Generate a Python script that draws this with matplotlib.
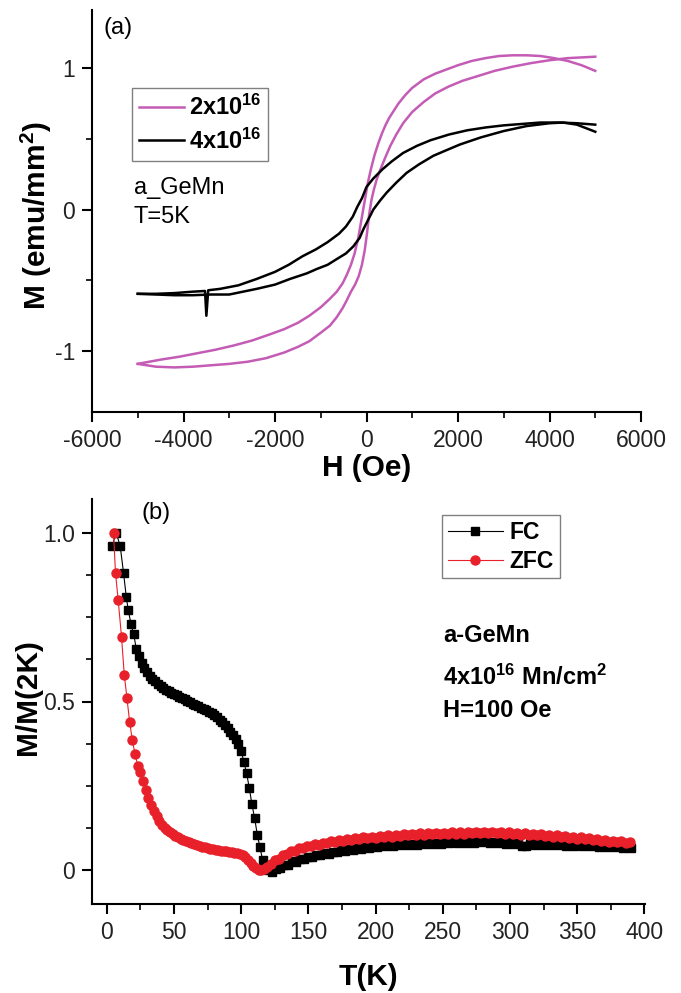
import matplotlib
matplotlib.use('Agg')
import matplotlib.pyplot as plt
from matplotlib.ticker import MultipleLocator

plt.rcParams['font.family'] = ['Liberation Sans', 'DejaVu Sans']
plt.rcParams['mathtext.fontset'] = 'custom'
plt.rcParams['mathtext.rm'] = 'Liberation Sans'
plt.rcParams['mathtext.bf'] = 'Liberation Sans:bold'
plt.rcParams['mathtext.default'] = 'regular'
plt.rcParams['axes.unicode_minus'] = False

# (a) hysteresis loops at 5 K, field in Oe, M in emu/mm^2
# 2x10^16 : descending branch (+5000 -> -5000)
pink_down_h = [5000, 4700, 4400, 4100, 3800, 3500, 3200, 2900, 2600, 2300, 2000, 1750, 1500,
               1250, 1000, 850, 700, 580, 500, 420, 340, 260, 180, 100, 30, -40, -110, -180,
               -260, -340, -430, -520, -650, -800, -1000, -1250, -1500, -1800, -2100, -2500,
               -2900, -3300, -3700, -4100, -4500, -5000]
pink_down_m = [0.98, 1.02, 1.05, 1.07, 1.085, 1.09, 1.09, 1.085, 1.07, 1.05, 1.02, 0.99, 0.96,
               0.92, 0.86, 0.81, 0.75, 0.69, 0.65, 0.60, 0.54, 0.47, 0.39, 0.29, 0.19, 0.06, -0.07,
               -0.20, -0.31, -0.39, -0.46, -0.52, -0.58, -0.63, -0.69, -0.75, -0.80, -0.845,
               -0.88, -0.925, -0.96, -0.99, -1.015, -1.04, -1.06, -1.09]
# 2x10^16 : ascending branch (-5000 -> +5000)
pink_up_h = [-5000, -4600, -4200, -3800, -3400, -3000, -2600, -2200, -1800, -1500, -1250, -1000,
             -800, -650, -520, -430, -340, -250, -170, -100, -40, 10, 60, 110, 160, 220, 300,
             400, 520, 650, 800, 1000, 1250, 1500, 1800, 2100, 2400, 2800, 3200, 3600, 4000,
             4400, 4700, 5000]
pink_up_m = [-1.09, -1.11, -1.115, -1.11, -1.10, -1.09, -1.075, -1.05, -1.01, -0.97, -0.93,
             -0.87, -0.82, -0.76, -0.695, -0.64, -0.58, -0.53, -0.47, -0.39, -0.29, -0.17,
             -0.03, 0.07, 0.14, 0.21, 0.28, 0.36, 0.45, 0.53, 0.61, 0.69, 0.76, 0.82, 0.87,
             0.91, 0.94, 0.98, 1.01, 1.035, 1.055, 1.07, 1.075, 1.08]

# 4x10^16 : descending branch (glitch near -3500 Oe)
black_down_h = [5000, 4600, 4200, 3800, 3400, 3000, 2600, 2200, 1800, 1400, 1100, 800, 550, 350,
                150, 0, -100, -200, -300, -450, -600, -850, -1100, -1400, -1700, -2000, -2400,
                -2800, -3200, -3460, -3500, -3530, -3800, -4200, -4600, -5000]
black_down_m = [0.60, 0.61, 0.615, 0.615, 0.605, 0.595, 0.58, 0.56, 0.53, 0.49, 0.45, 0.40,
                0.34, 0.285, 0.22, 0.16, 0.08, 0.02, -0.05, -0.12, -0.17, -0.23, -0.28, -0.33,
                -0.39, -0.44, -0.49, -0.535, -0.56, -0.57, -0.75, -0.575, -0.58, -0.59, -0.595,
                -0.595]
# 4x10^16 : ascending branch
black_up_h = [-5000, -4600, -4200, -3800, -3400, -3000, -2400, -2000, -1672, -1300, -1089, -850,
              -652, -450, -288, -150, -70, 40, 149, 300, 441, 650, 879, 1150, 1461, 1750, 2044,
              2500, 3000, 3500, 4000, 4300, 4600, 5000]
black_up_m = [-0.595, -0.60, -0.605, -0.605, -0.60, -0.60, -0.56, -0.53, -0.49, -0.45, -0.42,
              -0.39, -0.35, -0.31, -0.26, -0.20, -0.14, -0.07, 0.0, 0.065, 0.12, 0.19, 0.26,
              0.32, 0.38, 0.42, 0.46, 0.51, 0.555, 0.59, 0.61, 0.615, 0.60, 0.55]

# (b) FC / ZFC normalised magnetisation vs temperature (K)
fc_t = [4, 7, 10, 12.5, 14.5, 16, 18, 20,
        22, 24, 26, 28, 30, 32, 34, 36, 38, 40, 42, 44, 46, 48, 50, 52, 54, 56, 58, 60,
        62, 64, 66, 68, 70, 72, 74, 76, 78, 80, 82, 84, 86, 88, 90, 92, 94, 96, 98, 100,
        102, 104, 106, 108, 110, 112, 114, 116, 118, 120,
        123, 126, 129, 132, 135, 138, 141, 144, 147, 150, 153, 156, 159, 162, 165, 168,
        171, 174, 177, 180, 183, 186, 189, 192, 195, 198, 201, 204, 207, 210, 213, 216,
        219, 222, 225, 228, 231, 234, 237, 240, 243, 246, 249, 252, 255, 258, 261, 264,
        267, 270, 273, 276, 279, 282, 285, 288, 291, 294, 297, 300, 303, 306, 309, 312,
        315, 318, 321, 324, 327, 330, 333, 336, 339, 342, 345, 348, 351, 354, 357, 360,
        363, 366, 369, 372, 375, 378, 381, 384, 387, 390]
fc_m = [0.96, 1.0, 0.96, 0.88, 0.81, 0.77, 0.73, 0.70,
        0.655, 0.635, 0.615, 0.600, 0.588, 0.577, 0.568, 0.560, 0.552, 0.546, 0.540, 0.535,
        0.530, 0.526, 0.522, 0.518, 0.514, 0.510, 0.506, 0.502, 0.498, 0.494, 0.490, 0.486,
        0.482, 0.478, 0.474, 0.470, 0.465, 0.459, 0.453, 0.446, 0.438, 0.430, 0.421, 0.411,
        0.400, 0.388, 0.374, 0.352, 0.322, 0.288, 0.245, 0.195, 0.155, 0.105, 0.068, 0.030,
        0.010, 0.000,
        -0.004, 0.005, 0.007, 0.016, 0.017, 0.026, 0.025, 0.033, 0.032, 0.039,
        0.038, 0.045, 0.044, 0.050, 0.049, 0.055, 0.053, 0.059, 0.057, 0.063,
        0.060, 0.066, 0.064, 0.069, 0.066, 0.072, 0.069, 0.074, 0.071, 0.075,
        0.072, 0.077, 0.074, 0.078, 0.075, 0.079, 0.076, 0.081, 0.077, 0.082,
        0.078, 0.082, 0.079, 0.083, 0.080, 0.084, 0.080, 0.085, 0.081, 0.086,
        0.082, 0.087, 0.083, 0.086, 0.082, 0.085, 0.081, 0.084, 0.079, 0.083,
        0.078, 0.081, 0.072, 0.071, 0.080, 0.076, 0.080, 0.075, 0.079, 0.075,
        0.078, 0.074, 0.078, 0.073, 0.077, 0.073, 0.076, 0.072, 0.076, 0.071,
        0.075, 0.070, 0.074, 0.069, 0.073, 0.068, 0.072, 0.067, 0.070, 0.067]

zfc_t = [5, 6.5, 8.5, 11, 13, 15, 17, 19, 21, 23,
         25, 27, 29, 31, 33, 35, 37, 39, 41, 43, 45, 47, 49, 51, 53, 55, 57, 59, 61, 63, 65,
         67, 69, 71, 73, 75, 77, 79, 81, 83, 85, 87, 89, 91, 93, 95, 97, 99, 101, 103, 105,
         107, 109, 111, 113, 115, 117, 119,
         122, 125, 128, 131, 134, 137, 140, 143, 146, 149, 152, 155, 158, 161, 164, 167,
         170, 173, 176, 179, 182, 185, 188, 191, 194, 197, 200, 203, 206, 209, 212, 215,
         218, 221, 224, 227, 230, 233, 236, 239, 242, 245, 248, 251, 254, 257, 260, 263,
         266, 269, 272, 275, 278, 281, 284, 287, 290, 293, 296, 299, 302, 305, 308, 311,
         314, 317, 320, 323, 326, 329, 332, 335, 338, 341, 344, 347, 350, 353, 356, 359,
         362, 365, 368, 371, 374, 377, 380, 383, 386, 389]
zfc_m = [1.0, 0.88, 0.80, 0.69, 0.58, 0.51, 0.44, 0.385, 0.345, 0.31,
         0.290, 0.264, 0.238, 0.214, 0.193, 0.175, 0.160, 0.146, 0.135, 0.126, 0.118, 0.112,
         0.106, 0.102, 0.098, 0.094, 0.090, 0.086, 0.083, 0.080, 0.077, 0.075, 0.072, 0.070,
         0.068, 0.066, 0.064, 0.063, 0.061, 0.060, 0.058, 0.057, 0.056, 0.054, 0.053, 0.052,
         0.051, 0.049, 0.045, 0.038, 0.031, 0.022, 0.014, 0.007, 0.002, 0.001, 0.004, 0.010,
         0.020, 0.030, 0.034, 0.045, 0.047, 0.056, 0.057, 0.065, 0.065, 0.072,
         0.071, 0.078, 0.076, 0.082, 0.080, 0.086, 0.084, 0.089, 0.086, 0.092,
         0.090, 0.095, 0.093, 0.098, 0.095, 0.100, 0.097, 0.102, 0.099, 0.103,
         0.100, 0.105, 0.102, 0.106, 0.103, 0.107, 0.104, 0.109, 0.105, 0.109,
         0.106, 0.110, 0.106, 0.111, 0.107, 0.112, 0.108, 0.113, 0.108, 0.113,
         0.109, 0.114, 0.109, 0.114, 0.109, 0.113, 0.109, 0.113, 0.108, 0.112,
         0.106, 0.111, 0.105, 0.109, 0.104, 0.108, 0.103, 0.106, 0.101, 0.105,
         0.099, 0.103, 0.098, 0.101, 0.096, 0.100, 0.094, 0.098, 0.093, 0.096,
         0.089, 0.093, 0.087, 0.090, 0.085, 0.088, 0.083, 0.086, 0.081, 0.083]

PINK = '#C45CB6'
RED = '#E8202A'
TICK_COLOR = '#222222'


def style_axes(ax):
    for side in ['top', 'right']:
        ax.spines[side].set_visible(False)
    for side in ['left', 'bottom']:
        ax.spines[side].set_linewidth(1.5)
    ax.tick_params(which='major', direction='out', length=7, width=1.5, labelsize=16.5,
                   labelcolor=TICK_COLOR, pad=5)
    ax.tick_params(which='minor', direction='out', length=4, width=1.2)


fig = plt.figure(figsize=(6.81, 9.93), dpi=100)
ax1 = fig.add_axes([92 / 681, 1 - 412 / 993, 549 / 681, 402 / 993])
ax2 = fig.add_axes([92 / 681, 1 - 904 / 993, 553 / 681, 405 / 993])

# ---- panel (a)
ax1.plot(pink_down_h, pink_down_m, color=PINK, lw=1.8, label='2x10$^{16}$')
ax1.plot(pink_up_h, pink_up_m, color=PINK, lw=1.8)
ax1.plot(black_down_h, black_down_m, color='black', lw=1.8, label='4x10$^{16}$')
ax1.plot(black_up_h, black_up_m, color='black', lw=1.8)

ax1.set_xlim(-6000, 6000)
ax1.set_ylim(-1.43, 1.41)
ax1.xaxis.set_major_locator(MultipleLocator(2000))
ax1.xaxis.set_minor_locator(MultipleLocator(1000))
ax1.set_yticks([-1, 0, 1])
ax1.yaxis.set_minor_locator(MultipleLocator(0.5))
style_axes(ax1)
ax1.set_xlabel('H (Oe)', fontsize=21.5, fontweight='bold')
ax1.set_ylabel('M (emu/mm$^2$)', fontsize=21.5, fontweight='bold')
ax1.xaxis.set_label_coords(0.5, -0.105)
ax1.yaxis.set_label_coords(-0.069, 0.49)

leg1 = ax1.legend(loc='upper left', bbox_to_anchor=(0.073, 0.806), borderaxespad=0,
                  prop={'size': 17, 'weight': 'bold'}, handlelength=1.9, handletextpad=0.2,
                  labelspacing=0.35, borderpad=0.3, fancybox=False, framealpha=1)
leg1.get_frame().set_edgecolor('#808080')
leg1.get_frame().set_linewidth(1.0)

ax1.text(0.047, 0.955, '(a)', transform=ax1.transAxes, fontsize=17, ha='center', va='center')
ax1.text(0.0765, 0.557, 'a_GeMn', transform=ax1.transAxes, fontsize=17, va='center')
ax1.text(0.0765, 0.485, 'T=5K', transform=ax1.transAxes, fontsize=17, va='center')

# ---- panel (b)
ax2.plot(fc_t, fc_m, color='black', lw=0.8, marker='s', ms=6.0, mec='black', mfc='black',
         label='FC')
ax2.plot(zfc_t, zfc_m, color=RED, lw=0.8, marker='o', ms=6.5, mec=RED, mfc=RED, label='ZFC')

ax2.set_xlim(-11, 400.5)
ax2.set_ylim(-0.10, 1.10)
ax2.xaxis.set_major_locator(MultipleLocator(50))
ax2.xaxis.set_minor_locator(MultipleLocator(25))
ax2.set_yticks([0, 0.5, 1.0])
ax2.set_yticklabels(['0', '0.5', '1.0'])
ax2.yaxis.set_minor_locator(MultipleLocator(0.125))
style_axes(ax2)
ax2.set_xlabel('T(K)', fontsize=21.5, fontweight='bold')
ax2.set_ylabel('M/M(2K)', fontsize=21.5, fontweight='bold')
ax2.xaxis.set_label_coords(0.5, -0.146)
ax2.yaxis.set_label_coords(-0.091, 0.51)

leg2 = ax2.legend(loc='upper left', bbox_to_anchor=(0.633, 0.960), borderaxespad=0,
                  prop={'size': 16.5, 'weight': 'bold'}, handlelength=2.4, handletextpad=0.3,
                  labelspacing=0.25, borderpad=0.25, fancybox=False, framealpha=1)
leg2.get_frame().set_edgecolor('#808080')
leg2.get_frame().set_linewidth(1.0)

ax2.text(0.116, 0.965, '(b)', transform=ax2.transAxes, fontsize=17, ha='center', va='center')
ax2.text(0.635, 0.664, 'a-GeMn', transform=ax2.transAxes, fontsize=17, fontweight='bold',
         va='center')
ax2.text(0.635, 0.560, '4x10$^{16}$ Mn/cm$^{2}$', transform=ax2.transAxes, fontsize=17,
         fontweight='bold', va='center')
ax2.text(0.635, 0.479, 'H=100 Oe', transform=ax2.transAxes, fontsize=17, fontweight='bold',
         va='center')

fig.savefig('out.png', dpi=100)
